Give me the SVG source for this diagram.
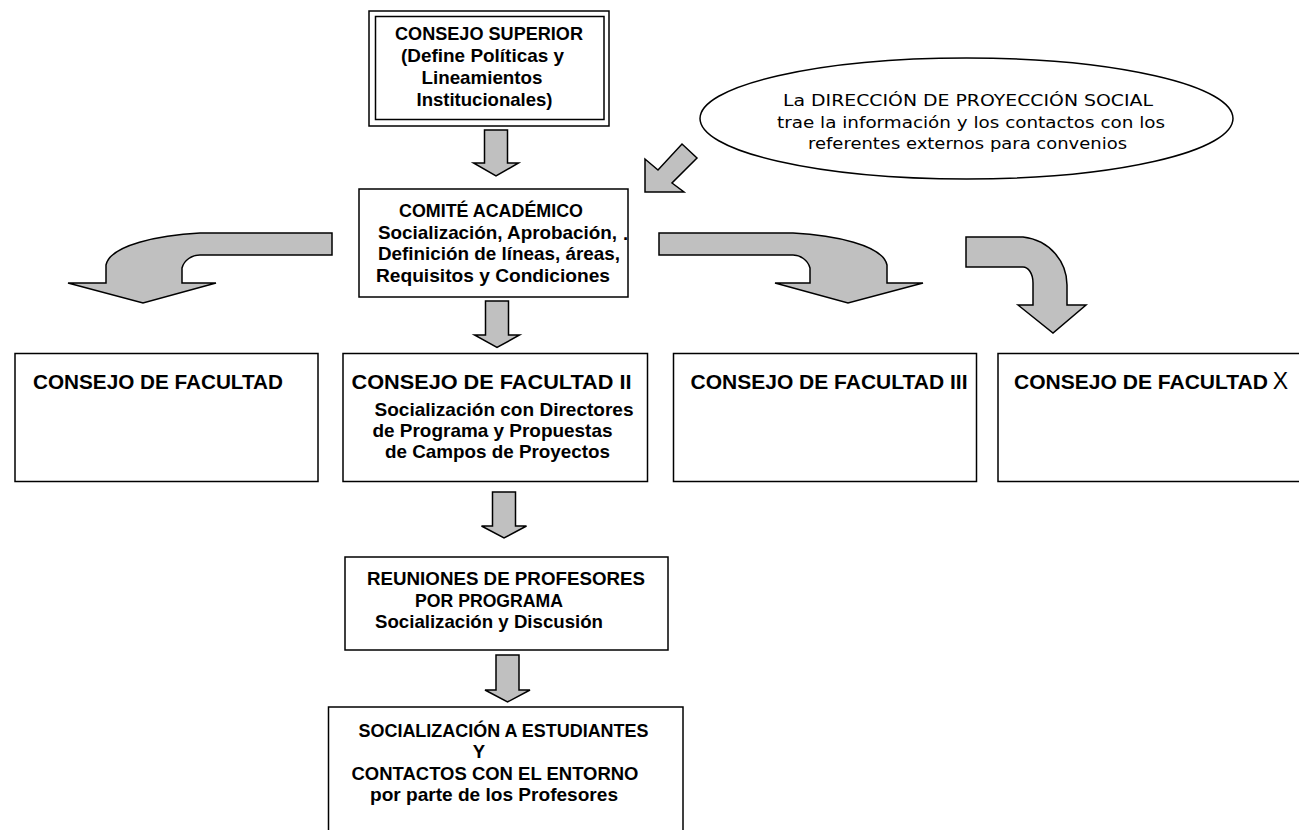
<svg xmlns="http://www.w3.org/2000/svg" width="1299" height="830" viewBox="0 0 1299 830">
<style>
.box{fill:#fff;stroke:#000;stroke-width:1.5}
.arw{fill:#c0c0c0;stroke:#000;stroke-width:1.5;stroke-linejoin:miter}
.t{font-family:"Liberation Sans",Arial,sans-serif;font-weight:bold;fill:#000;text-anchor:middle}
.s18{font-size:18.5px}
.s21{font-size:21px}
.e{font-family:"DejaVu Sans",Verdana,sans-serif;font-size:16.5px;fill:#000;text-anchor:middle}
</style>
<rect width="1299" height="830" fill="#fff"/>
<g id="connectors">
<path class="arw" d="M484.5,130 H507.5 V163 H518.5 L496,176 L473.5,163 H484.5 Z"/>
<path class="arw" d="M485.5,301 H508.5 V335 H519.5 L497,347.5 L474.5,335 H485.5 Z"/>
<path class="arw" d="M492.5,492 H515.5 V526 H526.5 L504,538 L481.5,526 H492.5 Z"/>
<path class="arw" d="M496,655 H519 V690 H530 L507.5,702 L485,690 H496 Z"/>
<path class="arw" d="M645,192 L684,192 L672,183 L697,158 L682,144 L658,170 L645,159 Z"/>
<path class="arw" d="M332,233 L200,233 C160,235 110,245 106,265 L106,283 L68,283 L143,303 L216,283 L182,283 L182,268 C184,260 192,255 200,255 L332,255 Z"/>
<path class="arw" d="M659,233 L793,233 C833,235 883,245 887,265 L887,283 L923,283 L848,303 L775,283 L810,283 L810,268 C808,260 800,255 793,255 L659,255 Z"/>
<path class="arw" d="M966,237 L1023,237 C1050,240 1067,262 1067,285 L1067,305 L1086,305 L1053,333 L1018,305 L1033,305 L1033,283 C1033,273 1028,267 1023,267 L966,267 Z"/>
</g>
<g id="consejo-superior">
<rect class="box" x="369" y="11" width="240" height="115"/>
<rect class="box" x="375.5" y="16.5" width="228.5" height="103"/>
<text class="t s18" x="489" y="40" textLength="188" lengthAdjust="spacingAndGlyphs">CONSEJO SUPERIOR</text>
<text class="t s18" x="482.5" y="62" textLength="163" lengthAdjust="spacingAndGlyphs">(Define Políticas y</text>
<text class="t s18" x="482" y="84" textLength="121" lengthAdjust="spacingAndGlyphs">Lineamientos</text>
<text class="t s18" x="484.5" y="106" textLength="136" lengthAdjust="spacingAndGlyphs">Institucionales)</text>
</g>
<g id="direccion-proyeccion-social">
<ellipse class="box" cx="966.5" cy="118.5" rx="266.5" ry="60.5"/>
<text class="e" x="968" y="106" textLength="370" lengthAdjust="spacingAndGlyphs">La DIRECCIÓN DE PROYECCIÓN SOCIAL</text>
<text class="e" x="971" y="127.5" textLength="388" lengthAdjust="spacingAndGlyphs">trae la información y los contactos con los</text>
<text class="e" x="967.5" y="149" textLength="319" lengthAdjust="spacingAndGlyphs">referentes externos para convenios</text>
</g>
<g id="comite-academico">
<rect class="box" x="359" y="189" width="269" height="108"/>
<text class="t s18" x="491" y="216.5" textLength="184" lengthAdjust="spacingAndGlyphs">COMITÉ ACADÉMICO</text>
<text class="t s18" x="497.5" y="238.5" textLength="239" lengthAdjust="spacingAndGlyphs">Socialización, Aprobación,</text>
<text class="t s18" x="499" y="259.5" textLength="242" lengthAdjust="spacingAndGlyphs">Definición de líneas, áreas,</text>
<text class="t s18" x="493" y="281.5" textLength="234" lengthAdjust="spacingAndGlyphs">Requisitos y Condiciones</text>
<text class="t s18" x="625.5" y="240">.</text>
</g>
<g id="consejo-facultad-1">
<rect class="box" x="15" y="353.5" width="303" height="128"/>
<text class="t s21" x="158" y="388.5" textLength="250" lengthAdjust="spacingAndGlyphs">CONSEJO DE FACULTAD</text>
</g>
<g id="consejo-facultad-2">
<rect class="box" x="343" y="353.5" width="304.5" height="128"/>
<text class="t s21" x="491.5" y="388.5" textLength="280" lengthAdjust="spacingAndGlyphs">CONSEJO DE FACULTAD II</text>
<text class="t s18" x="504" y="416" textLength="259" lengthAdjust="spacingAndGlyphs">Socialización con Directores</text>
<text class="t s18" x="492.5" y="437" textLength="240" lengthAdjust="spacingAndGlyphs">de Programa y Propuestas</text>
<text class="t s18" x="497.5" y="458" textLength="225" lengthAdjust="spacingAndGlyphs">de Campos de Proyectos</text>
</g>
<g id="consejo-facultad-3">
<rect class="box" x="673.5" y="353.5" width="303" height="128"/>
<text class="t s21" x="829" y="388.5" textLength="277" lengthAdjust="spacingAndGlyphs">CONSEJO DE FACULTAD III</text>
</g>
<g id="consejo-facultad-x">
<rect class="box" x="998" y="353.5" width="310" height="128"/>
<text class="t s21" x="1141" y="388.5" textLength="254" lengthAdjust="spacingAndGlyphs">CONSEJO DE FACULTAD</text>
<text x="1280.5" y="388.5" style="font-family:'Liberation Sans',Arial,sans-serif;font-size:23px;text-anchor:middle;fill:#000">X</text>
</g>
<g id="reuniones-profesores">
<rect class="box" x="345" y="557" width="323" height="93"/>
<text class="t s18" x="506" y="585" textLength="278" lengthAdjust="spacingAndGlyphs">REUNIONES DE PROFESORES</text>
<text class="t s18" x="489" y="606.5" textLength="148" lengthAdjust="spacingAndGlyphs">POR PROGRAMA</text>
<text class="t s18" x="489" y="628" textLength="228" lengthAdjust="spacingAndGlyphs">Socialización y Discusión</text>
</g>
<g id="socializacion-estudiantes">
<rect class="box" x="328.5" y="707" width="354.5" height="140"/>
<text class="t s18" x="503.5" y="736.5" textLength="290" lengthAdjust="spacingAndGlyphs">SOCIALIZACIÓN A ESTUDIANTES</text>
<text class="t s18" x="479" y="758">Y</text>
<text class="t s18" x="495" y="780" textLength="287" lengthAdjust="spacingAndGlyphs">CONTACTOS CON EL ENTORNO</text>
<text class="t s18" x="494" y="801" textLength="248" lengthAdjust="spacingAndGlyphs">por parte de los Profesores</text>
</g>
</svg>
